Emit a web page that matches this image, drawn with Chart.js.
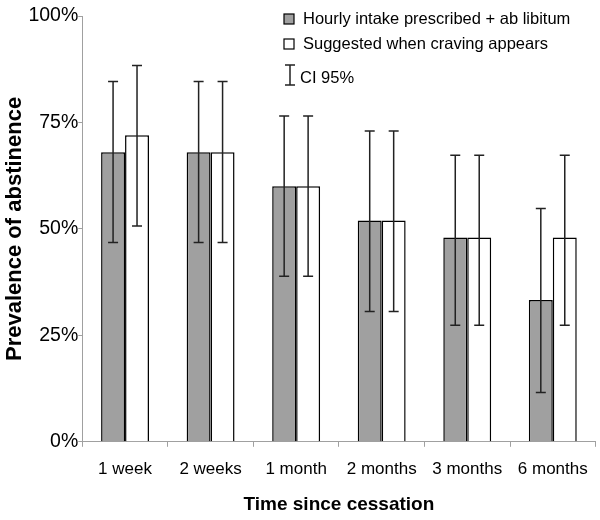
<!DOCTYPE html>
<html>
<head>
<meta charset="utf-8">
<script src="https://cdn.jsdelivr.net/npm/chart.js@4/dist/chart.umd.min.js"></script>
<style>
  html, body { margin: 0; padding: 0; background: #fff; }
  #wrap { width: 600px; height: 520px; }
</style>
</head>
<body>
<div id="wrap"><canvas id="chart" width="600" height="520"></canvas></div>
<script>
// data (percent)
const categories = ["1 week", "2 weeks", "1 month", "2 months", "3 months", "6 months"];
const hourlyValues = [68, 68, 60, 52, 48, 33.3];
const hourlyLow = [46.8, 46.8, 38.9, 30.6, 27.4, 11.6];
const hourlyHigh = [84.6, 84.6, 76.5, 73, 67.3, 54.8];
const cravingValues = [72, 68, 60, 52, 48, 48];
const cravingLow = [50.7, 46.8, 38.9, 30.6, 27.4, 27.4];
const cravingHigh = [88.4, 84.6, 76.5, 73, 67.3, 67.3];
const yTicks = [0, 25, 50, 75, 100];

const seriesNames = ["Hourly intake prescribed + ab libitum", "Suggested when craving appears"];
const ciLabel = "CI 95%";

const FONT = "'Liberation Sans', Arial, sans-serif";

// error bars drawn through the y scale
const errorBars = {
  id: "errorBars",
  afterDatasetsDraw(chart) {
    const ctx = chart.ctx;
    const yScale = chart.scales.y;
    const ranges = [[hourlyLow, hourlyHigh], [cravingLow, cravingHigh]];
    ctx.save();
    ctx.strokeStyle = "#222";
    ctx.lineWidth = 1.5;
    chart.data.datasets.forEach((ds, di) => {
      const meta = chart.getDatasetMeta(di);
      meta.data.forEach((bar, i) => {
        const x = bar.x;
        const yLo = yScale.getPixelForValue(ranges[di][0][i]);
        const yHi = yScale.getPixelForValue(ranges[di][1][i]);
        ctx.beginPath();
        ctx.moveTo(x, yLo); ctx.lineTo(x, yHi);
        ctx.moveTo(x - 5, yLo); ctx.lineTo(x + 5, yLo);
        ctx.moveTo(x - 5, yHi); ctx.lineTo(x + 5, yHi);
        ctx.stroke();
      });
    });
    ctx.restore();
  }
};

// legend in the top right corner
const legendBox = {
  id: "legendBox",
  afterDraw(chart) {
    const ctx = chart.ctx;
    ctx.save();
    ctx.font = "16.5px " + FONT;
    ctx.textBaseline = "middle";
    ctx.lineWidth = 1.2;
    ctx.strokeStyle = "#000";
    const fills = ["#a0a0a0", "#ffffff"];
    const rows = [19, 44];
    seriesNames.forEach((name, i) => {
      ctx.fillStyle = fills[i];
      ctx.fillRect(284, rows[i] - 5, 10, 10);
      ctx.strokeRect(284, rows[i] - 5, 10, 10);
      ctx.fillStyle = "#000";
      ctx.fillText(name, 303, rows[i]);
    });
    // CI symbol
    ctx.strokeStyle = "#222";
    ctx.lineWidth = 1.5;
    ctx.beginPath();
    ctx.moveTo(290, 65); ctx.lineTo(290, 85);
    ctx.moveTo(285, 65); ctx.lineTo(295, 65);
    ctx.moveTo(285, 85); ctx.lineTo(295, 85);
    ctx.stroke();
    ctx.fillStyle = "#000";
    ctx.fillText(ciLabel, 300, 78);
    ctx.restore();
  }
};

new Chart(document.getElementById("chart"), {
  type: "bar",
  data: {
    labels: categories,
    datasets: [
      {
        label: seriesNames[0],
        data: hourlyValues,
        backgroundColor: "#a0a0a0",
        borderColor: "#000",
        borderWidth: 1.5,
        barPercentage: 1,
        categoryPercentage: 0.56
      },
      {
        label: seriesNames[1],
        data: cravingValues,
        backgroundColor: "#ffffff",
        borderColor: "#000",
        borderWidth: 1.5,
        barPercentage: 1,
        categoryPercentage: 0.56
      }
    ]
  },
  options: {
    responsive: false,
    animation: false,
    layout: { padding: { top: 16, right: 3, bottom: 0, left: 2 } },
    scales: {
      y: {
        min: 0,
        max: 100,
        afterBuildTicks: axis => { axis.ticks = yTicks.map(v => ({ value: v })); },
        ticks: {
          color: "#000",
          font: { family: FONT, size: 19.5 },
          padding: 0,
          callback: v => v + "%"
        },
        grid: { display: true, drawOnChartArea: false, tickLength: 4, color: "#a0a0a0" },
        border: { color: "#a0a0a0" },
        title: {
          display: true,
          text: "Prevalence of abstinence",
          color: "#000",
          font: { family: FONT, size: 22, weight: "bold" },
          padding: { top: 0, bottom: 0 }
        }
      },
      x: {
        ticks: {
          color: "#000",
          font: { family: FONT, size: 17 },
          padding: 12,
          maxRotation: 0,
          autoSkip: false
        },
        grid: { display: true, drawOnChartArea: false, offset: true, tickLength: 5, color: "#a0a0a0" },
        border: { color: "#a0a0a0" },
        title: {
          display: true,
          text: "Time since cessation",
          color: "#000",
          font: { family: FONT, size: 19, weight: "bold" },
          padding: { top: 2 }
        }
      }
    },
    plugins: {
      legend: { display: false },
      tooltip: { enabled: false }
    }
  },
  plugins: [errorBars, legendBox]
});
</script>
</body>
</html>
